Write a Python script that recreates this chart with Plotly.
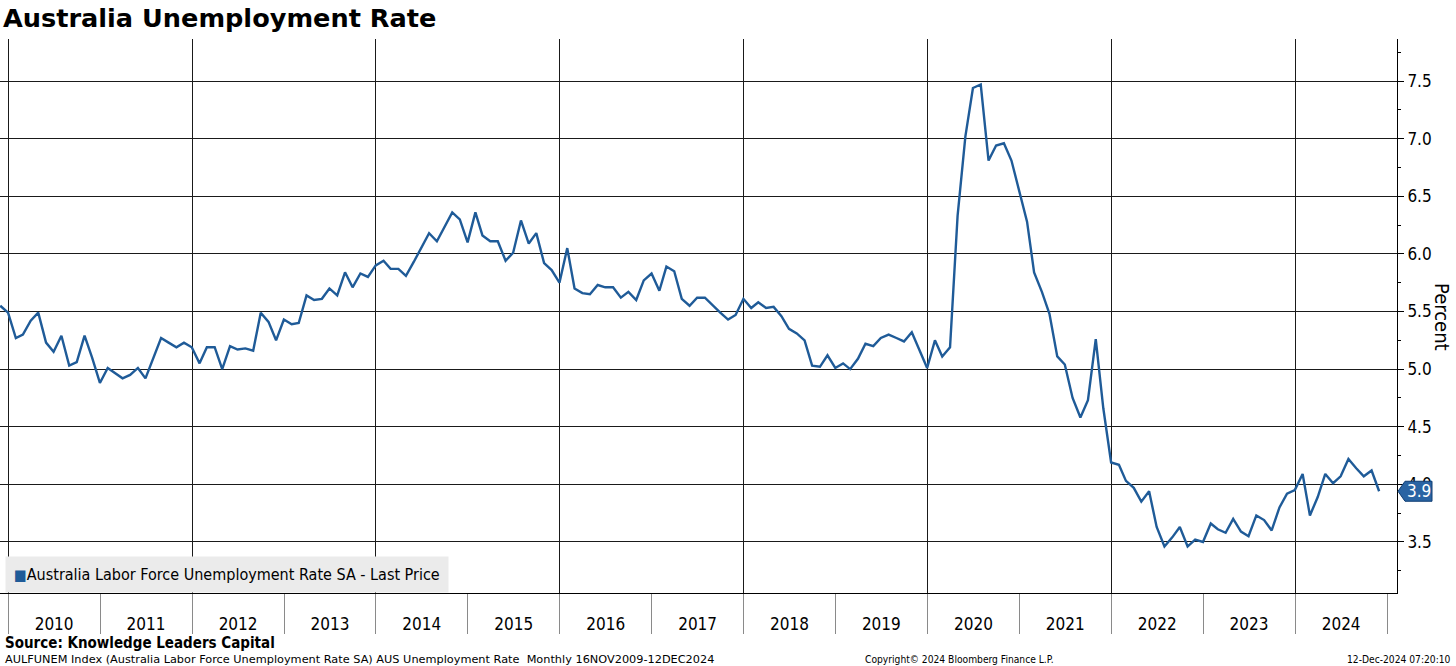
import pandas as pd
import plotly.graph_objects as go

# ---------------- data ----------------
series_name = "Australia Labor Force Unemployment Rate SA - Last Price"
first_month = "2009-11-01"  # Nov 2009 (points plotted at month end)

unemployment_rate = [
    5.55, 5.49,                                                             # 2009 Nov-Dec
    5.27, 5.30, 5.42, 5.49, 5.23, 5.15, 5.29, 5.03, 5.06, 5.29, 5.10, 4.88,  # 2010
    5.01, 4.97, 4.92, 4.95, 5.01, 4.92, 5.10, 5.27, 5.23, 5.19, 5.23, 5.19,  # 2011
    5.05, 5.19, 5.19, 5.00, 5.20, 5.17, 5.18, 5.16, 5.49, 5.41, 5.25, 5.43,  # 2012
    5.39, 5.40, 5.64, 5.60, 5.61, 5.70, 5.64, 5.84, 5.71, 5.83, 5.80, 5.90,  # 2013
    5.94, 5.87, 5.87, 5.81, 5.93, 6.05, 6.18, 6.11, 6.23, 6.36, 6.30, 6.10,  # 2014
    6.36, 6.16, 6.11, 6.11, 5.94, 6.01, 6.29, 6.09, 6.18, 5.92, 5.86, 5.75,  # 2015
    6.05, 5.70, 5.66, 5.65, 5.73, 5.71, 5.71, 5.62, 5.67, 5.60, 5.77, 5.83,  # 2016
    5.68, 5.89, 5.85, 5.61, 5.55, 5.62, 5.62, 5.55, 5.49, 5.43, 5.47, 5.61,  # 2017
    5.53, 5.58, 5.53, 5.54, 5.46, 5.35, 5.31, 5.25, 5.03, 5.02, 5.12, 5.01,  # 2018
    5.05, 5.00, 5.09, 5.22, 5.20, 5.27, 5.30, 5.27, 5.24, 5.32, 5.17, 5.01,  # 2019
    5.25, 5.11, 5.19, 6.33, 7.02, 7.44, 7.47, 6.81, 6.94, 6.96, 6.81, 6.55,  # 2020
    6.28, 5.84, 5.67, 5.48, 5.11, 5.04, 4.75, 4.58, 4.73, 5.26, 4.66, 4.19,  # 2021
    4.17, 4.03, 3.97, 3.85, 3.94, 3.63, 3.46, 3.54, 3.63, 3.46, 3.52, 3.50,  # 2022
    3.66, 3.61, 3.58, 3.70, 3.59, 3.55, 3.73, 3.69, 3.60, 3.80, 3.92, 3.95,  # 2023
    4.09, 3.73, 3.89, 4.09, 4.01, 4.07, 4.22, 4.14, 4.07, 4.12, 3.94,        # 2024 Jan-Nov
]

month_end_dates = pd.date_range(first_month, periods=len(unemployment_rate), freq="MS") + pd.offsets.MonthEnd(0)

label_years = list(range(2010, 2025))
year_labels = [str(y) for y in label_years]
year_mid_dates = [f"{y}-07-02" for y in label_years]
year_start_dates = [f"{y}-01-01" for y in range(2010, 2026)]
grid_dates = [f"{y}-01-01" for y in range(2010, 2025, 2)]

x_range = ["2009-11-29", "2025-02-09"]
y_range = [3.057, 7.865]

title_text = "Australia Unemployment Rate"
y_title = "Percent"
source_text = "Source: Knowledge Leaders Capital"
footer_left = ("AULFUNEM Index (Australia Labor Force Unemployment Rate SA) AUS Unemployment Rate"
               "&nbsp;&nbsp;Monthly 16NOV2009-12DEC2024")
footer_mid = "Copyright© 2024 Bloomberg Finance L.P."
footer_right = "12-Dec-2024 07:20:10"

# ---------------- style ----------------
FONT = "DejaVu Sans Condensed, DejaVu Sans, sans-serif"
WIDE_FONT = "DejaVu Sans, sans-serif"
LINE_BLUE = "#1f5b98"
TAG_BLUE = "#2a64a3"
GRID = "#1a1a1a"

fig = go.Figure()

fig.add_trace(go.Scatter(
    x=month_end_dates, y=unemployment_rate, mode="lines", name=series_name,
    line=dict(color=LINE_BLUE, width=2.4), showlegend=False,
    xaxis="x", yaxis="y",
))
# invisible copy so the overlaid label axis has a trace
fig.add_trace(go.Scatter(
    x=month_end_dates, y=unemployment_rate, mode="lines", opacity=0,
    hoverinfo="skip", showlegend=False, xaxis="x2", yaxis="y",
))

fig.update_layout(
    width=1456, height=666,
    margin=dict(l=0, r=59, t=39, b=73),
    paper_bgcolor="white", plot_bgcolor="white",
    font=dict(family=FONT, color="black"),
    title=dict(text=title_text, x=0.002, xref="container", xanchor="left",
               y=1 - 18 / 666, yref="container", yanchor="middle",
               font=dict(family=WIDE_FONT, size=25.6, weight="bold", color="black"),
               pad=dict(l=0, r=0, t=0, b=0)),
    xaxis=dict(
        type="date", range=x_range,
        tickmode="array", tickvals=grid_dates, showticklabels=False, ticks="",
        showgrid=True, gridcolor=GRID, gridwidth=1,
        showline=True, linecolor="black", linewidth=1,
        zeroline=False,
    ),
    xaxis2=dict(
        type="date", range=x_range, overlaying="x", anchor="y", side="bottom",
        tickmode="array", tickvals=year_mid_dates, ticktext=year_labels,
        ticks="", showgrid=False, showline=False, zeroline=False,
        tickfont=dict(family=FONT, size=17, color="black"),
        ticklabelstandoff=19,
        minor=dict(tickmode="array", tickvals=year_start_dates, ticks="outside",
                   ticklen=40, tickcolor="#8a8a8a", tickwidth=1, showgrid=False),
    ),
    yaxis=dict(
        side="right", range=y_range, tickmode="linear", tick0=3.5, dtick=0.5,
        tickformat=".1f", showgrid=True, gridcolor=GRID, gridwidth=1,
        showline=True, linecolor="black", linewidth=1,
        ticks="outside", ticklen=6, tickcolor="black",
        tickfont=dict(family=FONT, size=17, color="black"),
        zeroline=False,
        minor=dict(dtick=0.25, tick0=3.25, ticks="outside", ticklen=3,
                   tickcolor="black", showgrid=False),
    ),
    showlegend=False,
    hovermode="x",
)

last_value = unemployment_rate[-1]

# last value tag (pointer + box) at the right axis
fig.add_shape(
    type="path", xref="paper", yref="y", xsizemode="pixel", ysizemode="pixel",
    xanchor=1, yanchor=last_value,
    path="M 1,0 L 8,10 L 35,10 L 35,-10 L 8,-10 Z",
    fillcolor=TAG_BLUE, line=dict(color="#0f3d73", width=1), layer="above",
)

annotations = [
    dict(text=f"{last_value:.1f}", xref="paper", yref="y", x=1, y=last_value,
         xanchor="center", yanchor="middle", xshift=22, showarrow=False,
         font=dict(family=FONT, size=17, color="white")),
    dict(text=y_title, xref="paper", yref="paper", x=1442 / 1397, y=(593 - 317) / 554,
         xanchor="center", yanchor="middle", textangle=90, showarrow=False,
         font=dict(family=FONT, size=20, color="black")),
    dict(text=f'<span style="color:{LINE_BLUE};font-size:15px">■</span>{series_name}',
         xref="paper", yref="paper", x=5 / 1397, y=0, xanchor="left", yanchor="bottom",
         showarrow=False, bgcolor="#ebebeb", borderpad=8, align="left",
         font=dict(family=FONT, size=16, color="black")),
    dict(text=f"<b>{source_text}</b>", xref="paper", yref="paper", x=3 / 1397, y=(593 - 643) / 554,
         xanchor="left", yanchor="middle", showarrow=False,
         font=dict(family=FONT, size=15, color="black")),
    dict(text=footer_left, xref="paper", yref="paper", x=3 / 1397, y=(593 - 659) / 554,
         xanchor="left", yanchor="middle", showarrow=False,
         font=dict(family=WIDE_FONT, size=11.3, color="black")),
    dict(text=footer_mid, xref="paper", yref="paper", x=863 / 1397, y=(593 - 659) / 554,
         xanchor="left", yanchor="middle", showarrow=False,
         font=dict(family=FONT, size=10.2, color="black")),
    dict(text=footer_right, xref="paper", yref="paper", x=1453 / 1397, y=(593 - 659) / 554,
         xanchor="right", yanchor="middle", showarrow=False,
         font=dict(family=FONT, size=10.2, color="black")),
]
fig.update_layout(annotations=annotations)

fig.write_html(
    "out.html",
    config={"displayModeBar": False},
    post_script="document.body.style.margin='0';document.body.style.overflow='hidden';",
)
